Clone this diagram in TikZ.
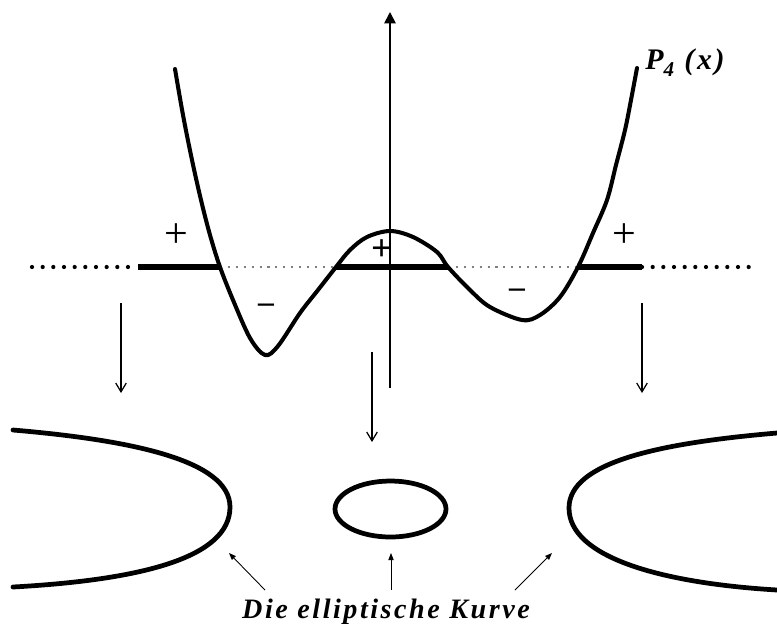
\documentclass[tikz,border=0pt]{standalone}
\usepackage{fontspec}
\setmainfont{Liberation Serif}
\newfontfamily\spacedserif[LetterSpace=9]{Liberation Serif}
\usetikzlibrary{arrows.meta}
\tikzset{
  polycurve/.style={line width=2.3pt, line join=round, line cap=round},
  branch/.style={line width=2.7pt, line cap=round},
  realpart/.style={line width=2.9pt},
  dotline/.style={line width=2.4pt, line cap=round, dash pattern=on 0pt off 6.07pt},
  gapline/.style={line width=0.6pt, gray, dash pattern=on 1.2pt off 3.3pt},
  maparrow/.style={line width=0.7pt, -{Straight Barb[length=5pt,width=6pt]}},
  axisarrow/.style={line width=1pt, -{Triangle[length=6.5pt,width=6.5pt]}},
  notearrow/.style={line width=0.5pt, -{Triangle[length=4pt,width=3pt]}},
  signlbl/.style={font=\fontsize{24}{24}\selectfont, inner sep=0pt},
}

\begin{document}
\begin{tikzpicture}[x=0.02cm, y=-0.02cm]
  \useasboundingbox (0,0) rectangle (777,630);
  % points on the real line
  \coordinate (lout) at (32,267);
  \coordinate (lend) at (138,267);
  \coordinate (r1) at (220,267);
  \coordinate (r2) at (336,267);
  \coordinate (r3) at (448,267);
  \coordinate (r4) at (578,267);
  \coordinate (rend) at (642,267);
  \coordinate (rout) at (750,267);
  \draw[dotline] (lout) -- (lend);
  \draw[dotline] (rend) -- (rout);
  \draw[realpart] (lend) -- (r1);
  \draw[realpart] (r2) -- (r3);
  \draw[realpart] (r4) -- (rend);
  \draw[gapline] (r1) -- (r2);
  \draw[gapline] (r3) -- (r4);
  % axis
  \coordinate (ybot) at (390,388);
  \coordinate (ytop) at (390,12);
  \draw[axisarrow] (ybot) -- (ytop);
  % the polynomial
  \draw[polycurve] plot[smooth, tension=0.55] coordinates {
    (175,69) (183,115) (192,160) (201,200) (210,235) (220,267) (233,300)
    (250,338) (265,355) (278,346) (300,313) (318,290) (336,267) (350,250)
    (367,237) (390,231) (413,237) (437,252) (448,267) (470,290) (490,307)
    (522,320) (540,315) (560,297) (578,267) (593,233) (607,200) (616,165)
    (625,130) (631,100) (637,68)};
  \node[font=\spacedserif\bfseries\itshape\fontsize{17}{17}\selectfont] (ptext) at (685,63) {P\raisebox{-0.5ex}{\fontsize{12}{12}\selectfont 4} (x)};
  \node[signlbl] (plusL) at (176,236) {+};
  \node[signlbl, font=\bfseries\fontsize{18}{18}\selectfont] (minusL) at (266,308) {–};
  \node[signlbl, font=\bfseries\fontsize{21}{21}\selectfont] (plusM) at (382,250) {+};
  \node[signlbl, font=\bfseries\fontsize{18}{18}\selectfont] (minusR) at (517,293) {–};
  \node[signlbl] (plusR) at (624,236) {+};
  % maps down
  \coordinate (al0) at (121,303);
  \coordinate (al1) at (121,393);
  \coordinate (am0) at (372,352);
  \coordinate (am1) at (372,442);
  \coordinate (ar0) at (642,303);
  \coordinate (ar1) at (642,393);
  \draw[maparrow] (al0) -- (al1);
  \draw[maparrow] (am0) -- (am1);
  \draw[maparrow] (ar0) -- (ar1);
  % the curve
  \draw[branch] (13,430) .. controls (130,440) and (230,460) .. (230,507)
    .. controls (230,558) and (140,580) .. (13,587);
  \draw[branch] (390.5,509) ellipse [x radius=1.11cm, y radius=0.56cm];
  \draw[branch] (777,433) .. controls (660,443) and (569,462) .. (569,508)
    .. controls (569,557) and (660,583) .. (777,590);
  \node[font=\spacedserif\bfseries\itshape\fontsize{16}{16}\selectfont] (caption) at (386,612) {Die elliptische Kurve};
  \coordinate (nl0) at (265,590);
  \coordinate (nl1) at (229,553);
  \coordinate (nm0) at (391,590);
  \coordinate (nm1) at (391,553);
  \coordinate (nr0) at (515,590);
  \coordinate (nr1) at (552,553);
  \draw[notearrow] (nl0) -- (nl1);
  \draw[notearrow] (nm0) -- (nm1);
  \draw[notearrow] (nr0) -- (nr1);
\end{tikzpicture}
\end{document}
